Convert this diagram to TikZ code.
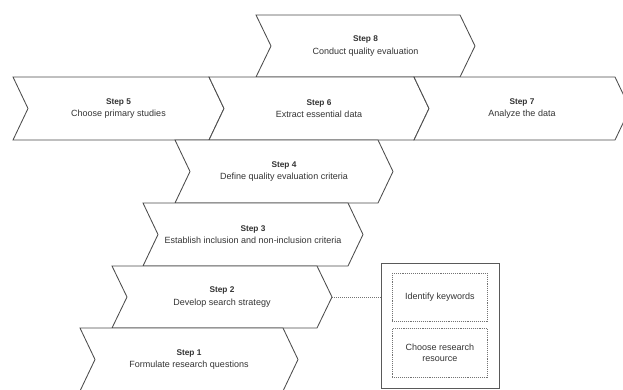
\documentclass[tikz,border=0pt]{standalone}
\usepackage{fontspec}
\setmainfont{Liberation Sans}
\tikzset{
  chev/.style={draw=black!70, fill=white, line width=0.85pt, line join=miter},
  lbl/.style={align=center, inner sep=0pt, text=black!80, font=\fontsize{9}{12.5}\selectfont},
  outerbox/.style={draw=black!65, line width=0.85pt},
  innerbox/.style={draw=black!55, densely dotted, line width=0.9pt},
  link/.style={draw=black!55, densely dotted, line width=1pt},
  boxtxt/.style={align=center, text=black!80, font=\fontsize{9}{11}\selectfont}
}
% name, xleft, xright, ytop, ybottom, step, description
\newcommand\chevshape[7]{%
  \draw[chev] (#2,#4) -- (#3,#4) -- ({#3+15},{(#4+#5)/2}) -- (#3,#5) -- (#2,#5) -- ({#2+15},{(#4+#5)/2}) -- cycle;
  \node[lbl] (#1) at ({(#2+#3)/2+7.5},{(#4+#5)/2}) {{\bfseries\fontsize{8.3}{12.5}\selectfont #6}\\#7};
}
\begin{document}
\begin{tikzpicture}[x=1pt,y=-1pt]
\useasboundingbox (0,0) rectangle (623,389);
\chevshape{s8}{256}{460}{15}{77}{Step 8}{Conduct quality evaluation}
\chevshape{s5}{13}{209}{77}{140}{Step 5}{Choose primary studies}
\chevshape{s6}{209}{414}{77}{140}{Step 6}{Extract essential data}
\chevshape{s7}{414}{615}{77}{140}{Step 7}{Analyze the data}
\chevshape{s4}{175}{378}{140}{203}{Step 4}{Define quality evaluation criteria}
\chevshape{s3}{143}{348}{203}{266}{Step 3}{Establish inclusion and non-inclusion criteria}
\chevshape{s2}{112}{317}{266}{328}{Step 2}{Develop search strategy}
\chevshape{s1}{80}{283}{328}{391}{Step 1}{Formulate research questions}
\coordinate (s2tip) at (332,297);
\node[outerbox, anchor=north west, minimum width=118, minimum height=125, inner sep=0pt] (box) at (381,263) {};
\node[innerbox, anchor=north west, minimum width=95, minimum height=48, inner sep=0pt] (kw) at (392,273) {};
\node[boxtxt] (kwt) at (kw.center) {Identify keywords};
\node[innerbox, anchor=north west, minimum width=95, minimum height=49, inner sep=0pt] (res) at (392,328) {};
\node[boxtxt] (rest) at (res.center) {Choose research\\resource};
\draw[link] (s2tip) -- (box.west |- s2tip);
\end{tikzpicture}
\end{document}
